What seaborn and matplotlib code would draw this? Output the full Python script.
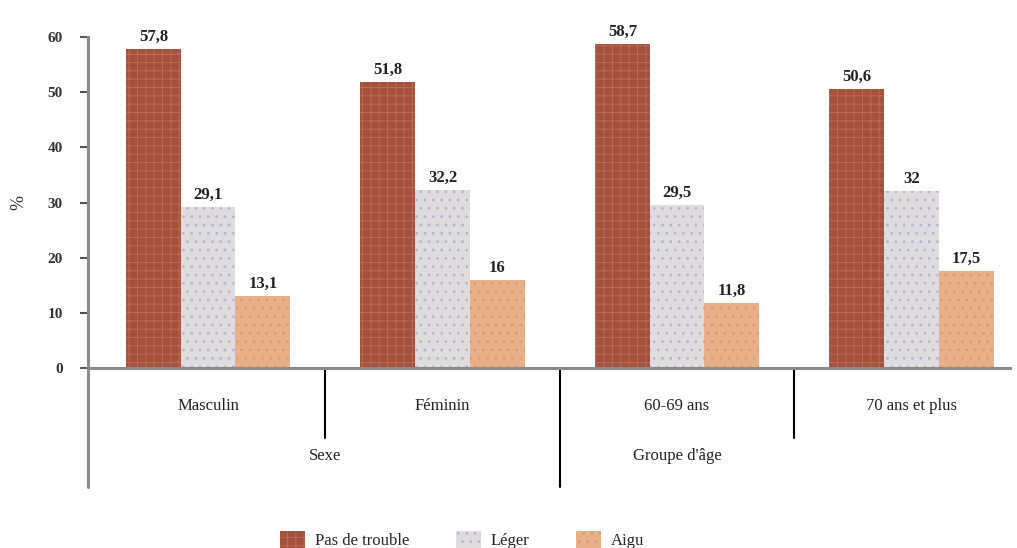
import matplotlib
matplotlib.use("Agg")
import matplotlib.pyplot as plt
import seaborn as sns
import pandas as pd
from matplotlib.patches import Patch

categories = ["Masculin", "Féminin", "60-69 ans", "70 ans et plus"]
groups = ["Sexe", "Groupe d'âge"]
series = ["Pas de trouble", "Léger", "Aigu"]
pas_de_trouble = [57.8, 51.8, 58.7, 50.6]
leger = [29.1, 32.2, 29.5, 32.0]
aigu = [13.1, 16.0, 11.8, 17.5]
value_labels = [["57,8", "51,8", "58,7", "50,6"],
                ["29,1", "32,2", "29,5", "32"],
                ["13,1", "16", "11,8", "17,5"]]
yticks = [0, 10, 20, 30, 40, 50, 60]

rows = []
for s, vals in zip(series, [pas_de_trouble, leger, aigu]):
    for c, v in zip(categories, vals):
        rows.append({"cat": c, "niveau": s, "val": v})
df = pd.DataFrame(rows)

sns.set_style("white")
plt.rcParams["font.family"] = ["Liberation Serif", "DejaVu Serif"]
plt.rcParams["hatch.linewidth"] = 0.7

face = ["#a4513d", "#dedcdc", "#e8b088"]
hatchcol = ["#b86a56", "#b4b6d6", "#d99a74"]
hatches = ["++", "..", ".."]

fig = plt.figure(figsize=(10.17, 5.48), dpi=100)
ax = fig.add_axes([88/1017, 1-368/548, (1010-88)/1017, (368-37)/548])

sns.barplot(data=df, x="cat", y="val", hue="niveau", order=categories,
            hue_order=series, palette=face, width=0.7, gap=0, ax=ax,
            legend=False, saturation=1)

for i, cont in enumerate(ax.containers):
    for bar in cont:
        bar.set_hatch(hatches[i])
        bar.set_edgecolor(hatchcol[i])
        bar.set_linewidth(0)
    ax.bar_label(cont, labels=value_labels[i], padding=3, fontsize=12,
                 fontweight="bold", color="#222222")

ax.set_ylim(0, 60)
ax.set_xlim(-0.512, 3.42)
ax.set_yticks(yticks)
ax.set_yticklabels([str(t) for t in yticks], fontsize=11, fontweight="bold", color="#333333")
ax.set_xticks([])
ax.set_xlabel("")
ax.set_ylabel("%", fontsize=13, color="#333333")
ax.yaxis.set_label_coords(-0.066, 0.5)

for sp in ["top", "right"]:
    ax.spines[sp].set_visible(False)
ax.spines["left"].set_color("#8a8a8a")
ax.spines["left"].set_linewidth(2.2)
ax.spines["bottom"].set_color("#8a8a8a")
ax.spines["bottom"].set_linewidth(2.2)
ax.tick_params(axis="y", left=True, length=6, width=1.5, color="#555555", pad=12)

trans = ax.get_xaxis_transform()
# extend left spine below the axis
ax.plot([-0.512, -0.512], [0, -0.36], transform=trans, color="#8a8a8a", lw=2.2, clip_on=False)
# separators
for xs, depth in [(0.5, -0.21), (1.5, -0.36), (2.5, -0.21)]:
    ax.plot([xs, xs], [0, depth], transform=trans, color="black", lw=1.5, clip_on=False)

for i, c in enumerate(categories):
    ax.text(i, -0.115, c, transform=trans, ha="center", va="center", fontsize=12, color="#222222")
ax.text(0.5, -0.265, groups[0], transform=trans, ha="center", va="center", fontsize=12, color="#222222")
ax.text(2.0, -0.265, groups[1], transform=trans, ha="center", va="center", fontsize=12, color="#222222")

handles = [Patch(facecolor=face[i], edgecolor=hatchcol[i], hatch=hatches[i], linewidth=0, label=series[i])
           for i in range(3)]
fig.legend(handles=handles, loc="center", bbox_to_anchor=(462/1017, 1-540/548), ncol=3,
           frameon=False, fontsize=12, handlelength=1.5, handleheight=1.2, columnspacing=2.8,
           handletextpad=0.6)

fig.savefig("out.png", dpi=100)
